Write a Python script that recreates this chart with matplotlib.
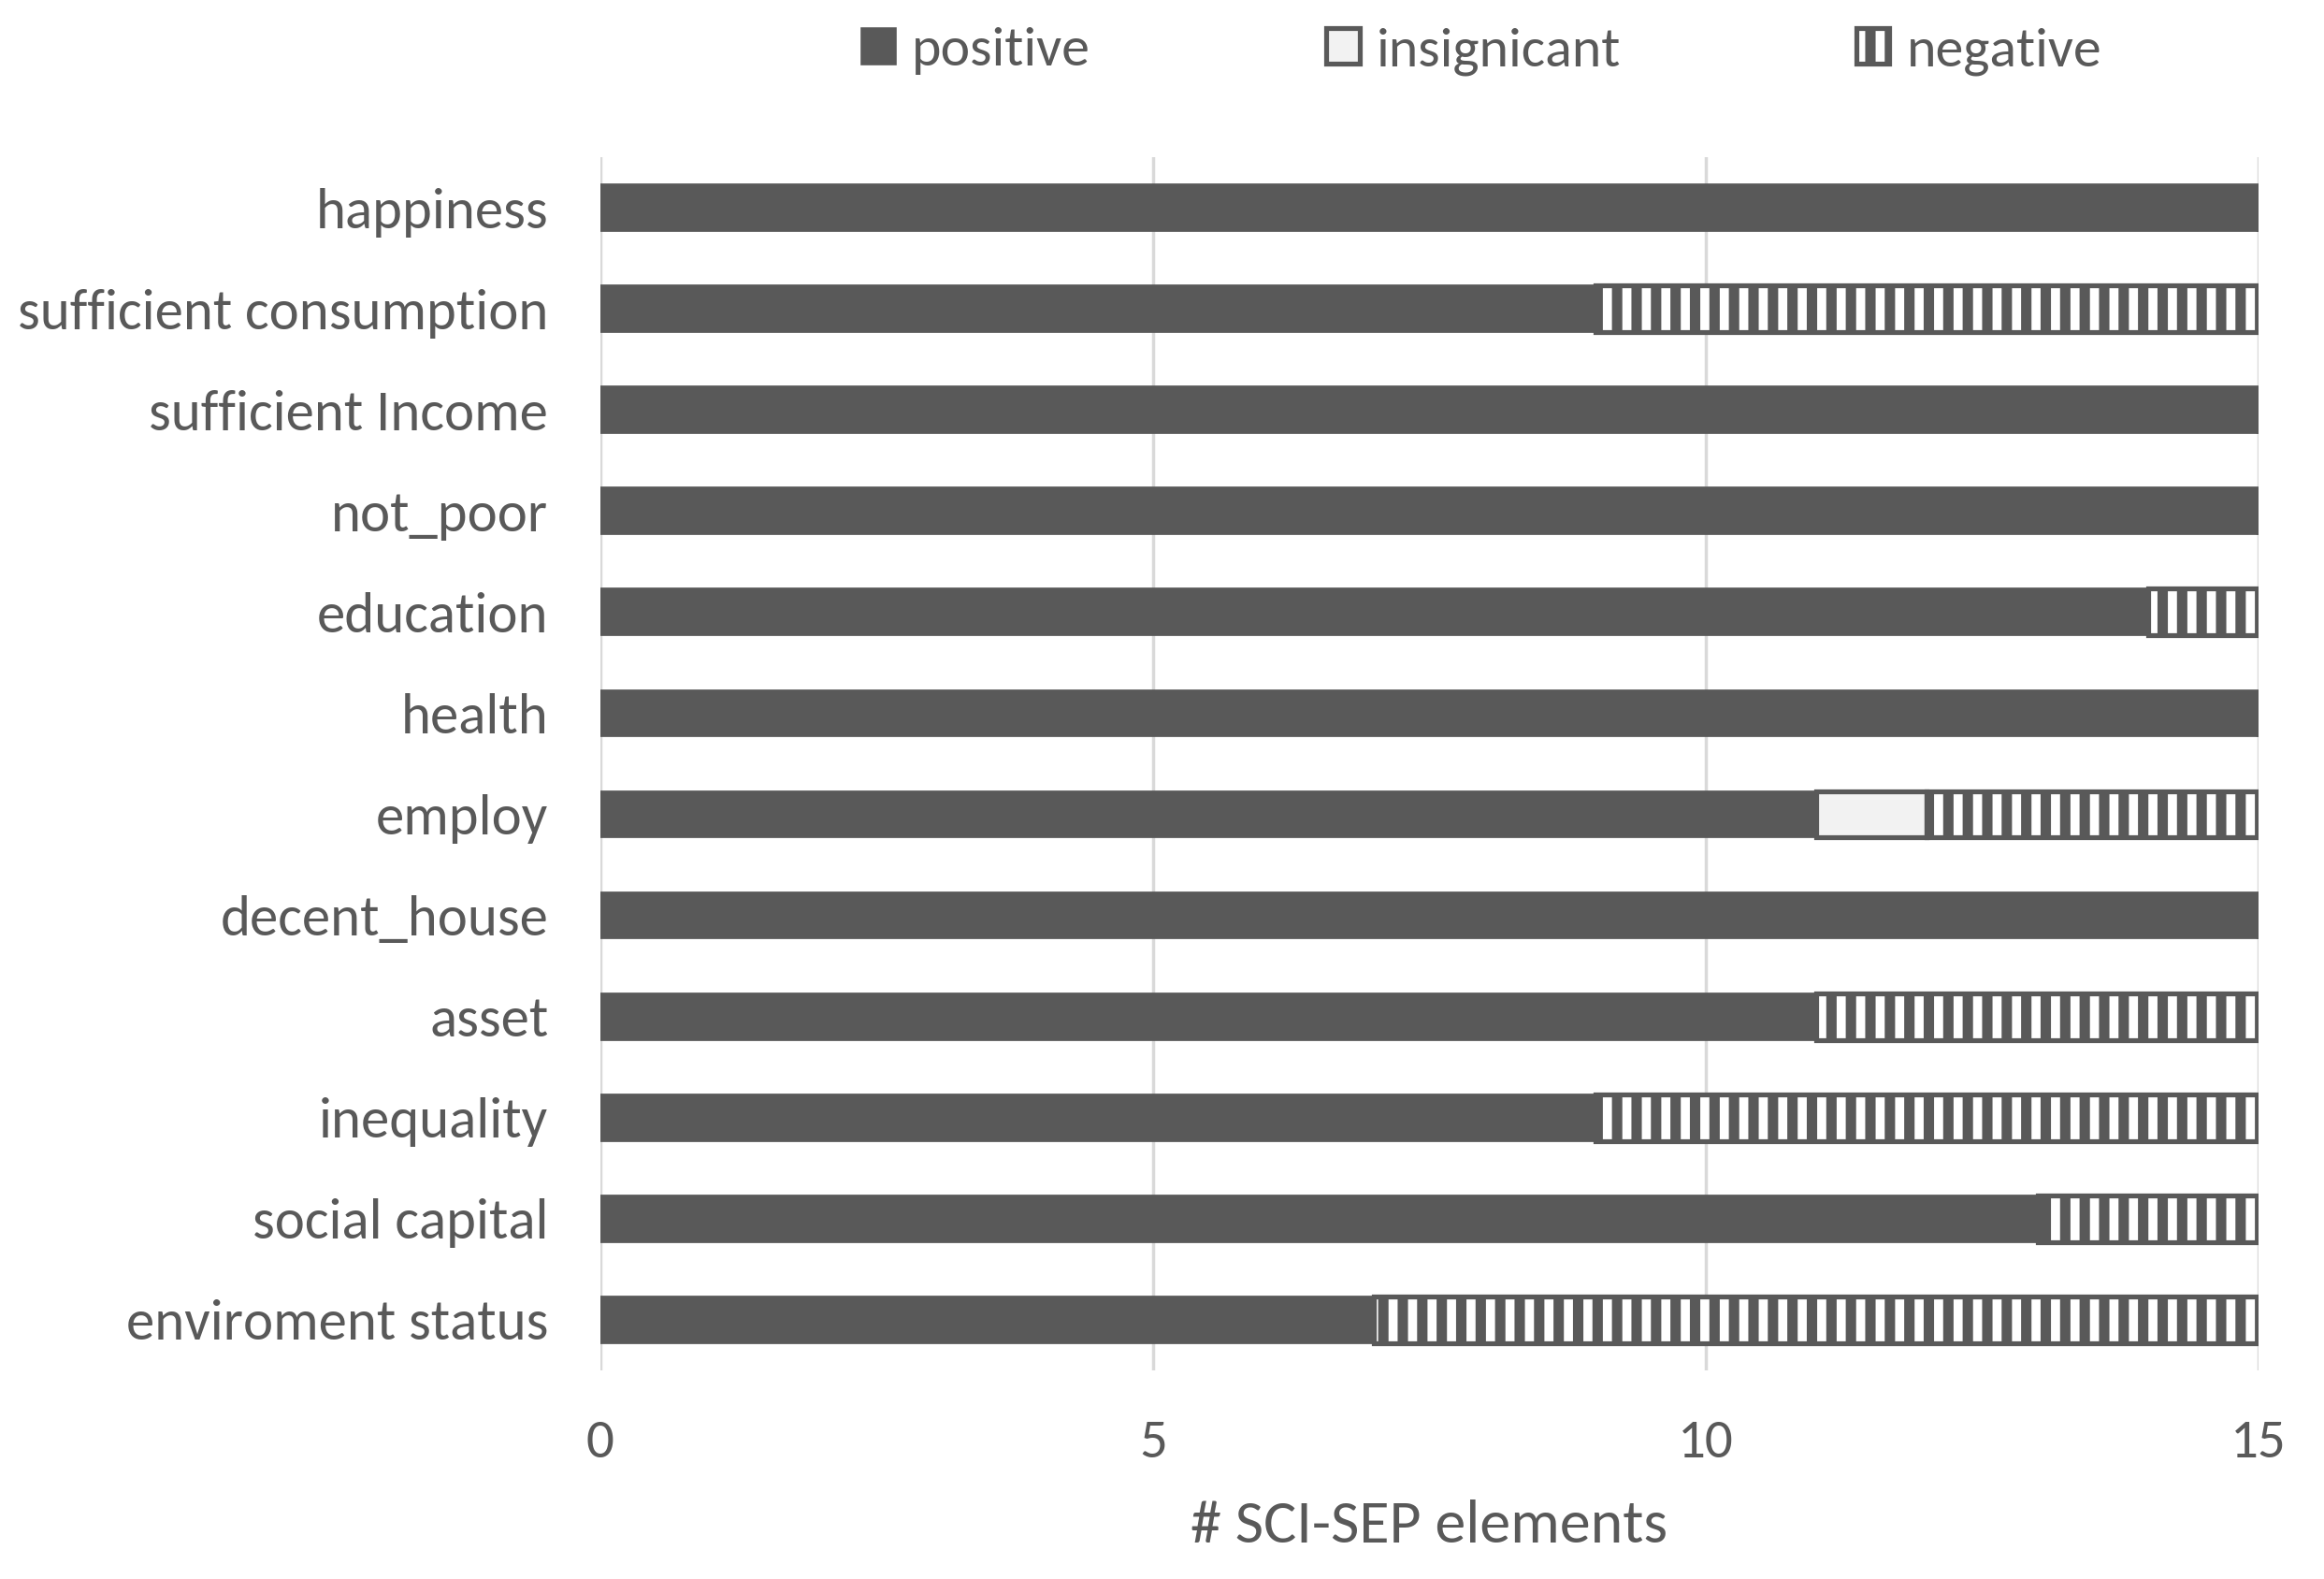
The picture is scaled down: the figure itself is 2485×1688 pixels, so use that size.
import matplotlib
matplotlib.use("Agg")
import matplotlib.pyplot as plt
from matplotlib.patches import Patch
from matplotlib.legend_handler import HandlerTuple
import numpy as np

categories = ["happiness", "sufficient consumption", "sufficient Income", "not_poor",
              "education", "health", "employ", "decent_house", "asset", "inequality",
              "social capital", "enviroment status"]
positive = [15, 9, 15, 15, 14, 15, 11, 15, 11, 9, 13, 7]
insignificant = [0, 0, 0, 0, 0, 0, 1, 0, 0, 0, 0, 0]
negative = [0, 6, 0, 0, 1, 0, 3, 0, 4, 6, 2, 8]
xticks = [0, 5, 10, 15]

DARK = "#595959"
LIGHT = "#f2f2f2"
TXT = "#595959"

plt.rcParams['font.family'] = ['Carlito', 'Lato', 'DejaVu Sans']
plt.rcParams['hatch.linewidth'] = 5.6

fig = plt.figure(figsize=(19.88, 13.504), dpi=125)
ax = fig.add_axes([0.2583, 0.1321, 0.7135, 0.7684])

y = np.arange(len(categories))
h = 0.46
pos = np.array(positive, float)
ins = np.array(insignificant, float)
neg = np.array(negative, float)

ax.barh(y, pos, height=h, color=DARK, edgecolor=DARK, linewidth=1.0, zorder=3)
ax.barh(y, ins, left=pos, height=h, color=LIGHT, edgecolor=DARK, linewidth=3.0, zorder=3)
ax.barh(y, neg, left=pos + ins, height=h, color=DARK, edgecolor="white", linewidth=0,
        hatch="|", zorder=3)
ax.barh(y, neg, left=pos + ins, height=h, fill=False, edgecolor=DARK, linewidth=3.0, zorder=4)

ax.set_ylim(len(categories) - 0.5, -0.5)
ax.set_xlim(0, 15)
ax.set_xticks(xticks)
ax.set_xticklabels([str(t) for t in xticks])
ax.set_yticks(y)
ax.set_yticklabels(categories)
ax.tick_params(axis='both', length=0, colors=TXT)
ax.tick_params(axis='x', pad=30, labelsize=34)
ax.tick_params(axis='y', pad=32, labelsize=35)
for s in ax.spines.values():
    s.set_visible(False)
ax.grid(axis='x', color="#d9d9d9", linewidth=2.0, zorder=0)
ax.set_axisbelow(True)
ax.set_xlabel("# SCI-SEP elements", fontsize=38, color=TXT, labelpad=20)

h_pos = Patch(facecolor=DARK, edgecolor=DARK, linewidth=1.5)
h_ins = Patch(facecolor=LIGHT, edgecolor=DARK, linewidth=3.0)
h_neg_fill = Patch(facecolor=DARK, edgecolor="white", hatch="|", linewidth=0)
h_neg_edge = Patch(facecolor="none", edgecolor=DARK, linewidth=3.0)
leg = fig.legend([h_pos, h_ins, (h_neg_fill, h_neg_edge)],
                 ["positive", "insignicant", "negative"], loc="center",
                 bbox_to_anchor=(0.6375, 0.9674), ncol=3, frameon=False, fontsize=34.5,
                 handlelength=0.6, handleheight=0.6, handletextpad=0.3, columnspacing=4.2,
                 labelcolor=TXT, borderpad=0,
                 handler_map={tuple: HandlerTuple(ndivide=1, pad=0)})

fig.savefig("out.png", dpi=125, facecolor="white")
